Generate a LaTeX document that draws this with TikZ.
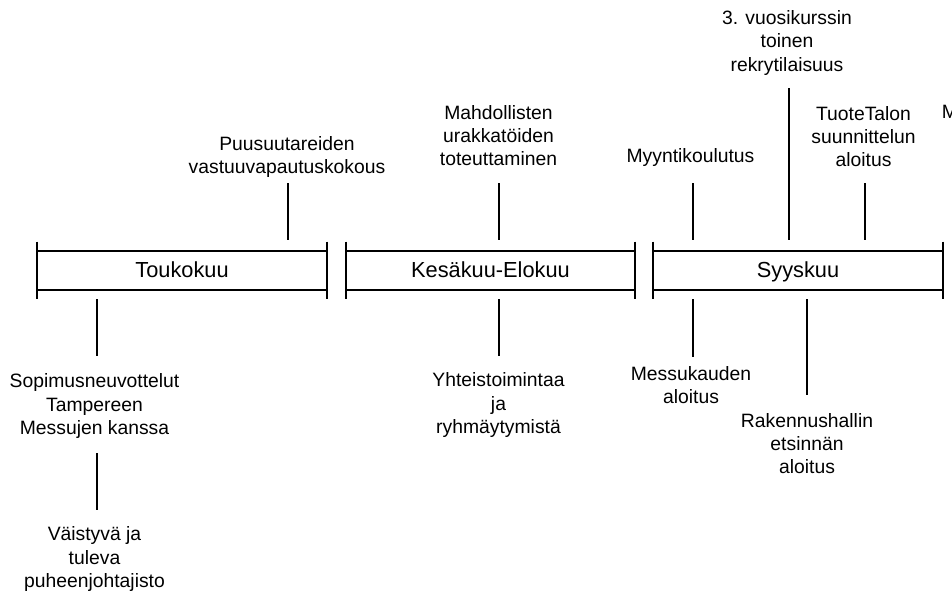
\documentclass[tikz,border=0pt]{standalone}
\usepackage{fontspec}
\setmainfont{Liberation Sans}
\usetikzlibrary{positioning}

\tikzset{
  month/.style={minimum width=5.8cm, minimum height=0.78cm, inner sep=0pt,
    text height=9.2pt, text depth=1.8pt, font=\fontsize{12.4}{15}\selectfont},
  event/.style={align=center, inner sep=0pt},
  link/.style={line width=1.1pt},
}

\begin{document}
\begin{tikzpicture}[x=0.02cm, y=-0.02cm, font=\fontsize{11}{13.1}\selectfont]
    \useasboundingbox (0,0) rectangle (952,595);

        % Define nodes
        \node[month]                        (may)    at (182,270.5)   {Toukokuu};
        \node[month, minimum width=5.78cm]  (summer) at (490.5,270.5) {Kesäkuu-Elokuu};
        \node[month]                        (sept)   at (798,270.5)   {Syyskuu};

        \node[event] (puu)    at (287,157)   {Puusuutareiden\\vastuuvapautuskokous};
        \node[event] (urakka) at (498.5,135.5) {Mahdollisten\\urakkatöiden\\toteuttaminen};
        \node[event] (myynti) at (690.5,157.5) {Myyntikoulutus};
        \node[event] (rekry)  at (787,43)    {3. vuosikurssin\\toinen\\rekrytilaisuus};
        \node[event] (tuote)  at (863.5,136.5) {TuoteTalon\\suunnittelun\\aloitus};
        \node[event, anchor=west] (next) at (941.5,112) {M};

        \node[event] (sopimus) at (94.5,406)  {Sopimusneuvottelut\\Tampereen\\Messujen kanssa};
        \node[event] (pj)      at (94.5,559)  {Väistyvä ja\\tuleva\\puheenjohtajisto};
        \node[event] (yhteis)  at (498.5,405) {Yhteistoimintaa\\ja\\ryhmäytymistä};
        \node[event] (messu)   at (691,385)   {Messukauden\\aloitus};
        \node[event] (halli)   at (807,444)   {Rakennushallin\\etsinnän\\aloitus};

        % Connector ends
        \coordinate (puu1)    at (288,183); \coordinate (puu2)    at (288,240);
        \coordinate (urakka1) at (499,183); \coordinate (urakka2) at (499,240);
        \coordinate (myynti1) at (693,183); \coordinate (myynti2) at (693,240);
        \coordinate (rekry1)  at (789,88);  \coordinate (rekry2)  at (789,240);
        \coordinate (tuote1)  at (865,183); \coordinate (tuote2)  at (865,240);
        \coordinate (sopimus1) at (97,299);  \coordinate (sopimus2) at (97,356);
        \coordinate (pj1)      at (97,453);  \coordinate (pj2)      at (97,510);
        \coordinate (yhteis1)  at (499,299); \coordinate (yhteis2)  at (499,356);
        \coordinate (messu1)   at (693,299); \coordinate (messu2)   at (693,357);
        \coordinate (halli1)   at (807,299); \coordinate (halli2)   at (807,395);

        % Month bars
        \foreach \m in {may,summer,sept} {
            \draw[link] (\m.north west) -- (\m.north east);
            \draw[link] (\m.south west) -- (\m.south east);
            \draw[link] ([yshift=0.18cm]\m.north west) -- ([yshift=-0.18cm]\m.south west);
            \draw[link] ([yshift=0.18cm]\m.north east) -- ([yshift=-0.18cm]\m.south east);
        }

        % Connect the nodes
        \foreach \e in {puu,urakka,myynti,rekry,tuote,sopimus,pj,yhteis,messu,halli}
            \draw[link] (\e1) -- (\e2);
      \end{tikzpicture}
\end{document}
